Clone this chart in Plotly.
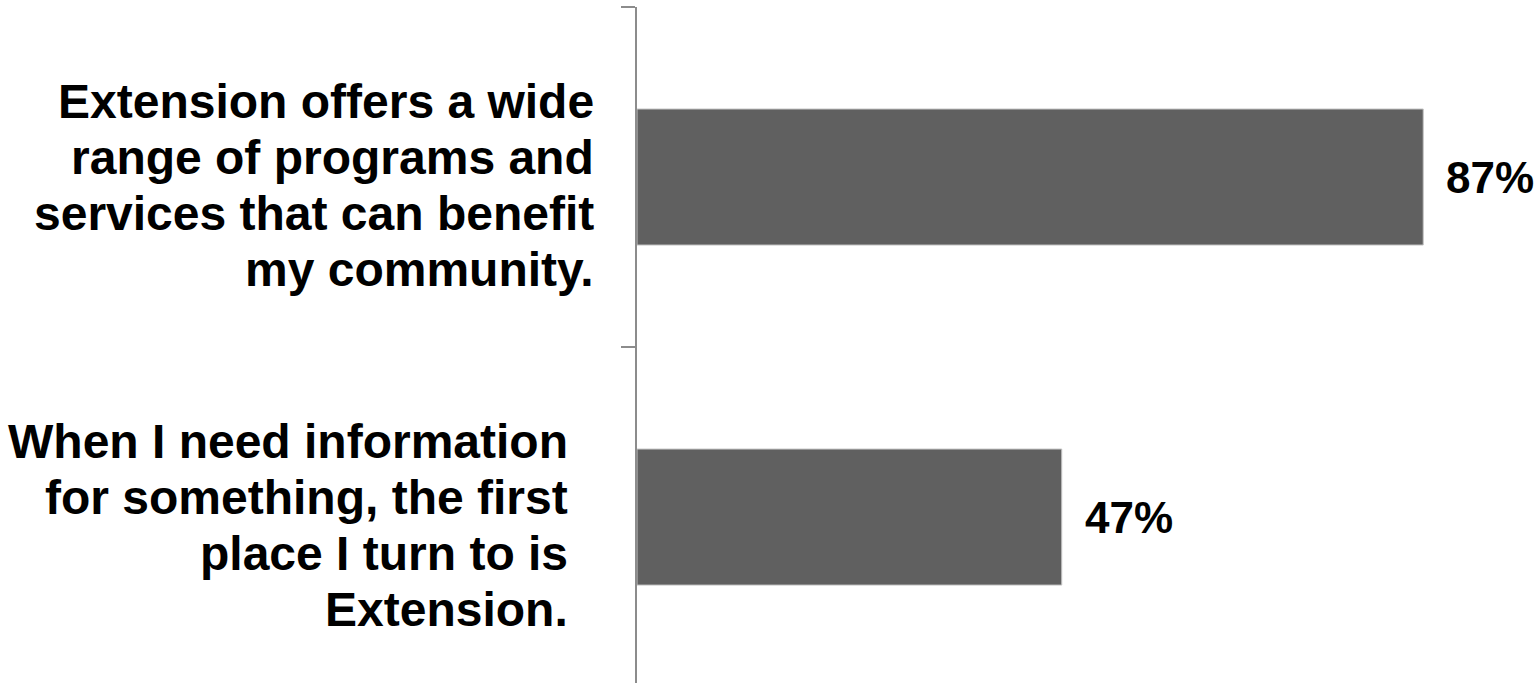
import plotly.graph_objects as go

# ---- data ----
categories = [
    "Extension offers a wide<br>range of programs and<br>services that can benefit<br>my community.",
    "When I need information<br>for something, the first<br>place I turn to is<br>Extension.",
]
values = [87, 47]
value_labels = ["87%", "47%"]

# ---- style ----
BAR_COLOR = "#606060"
AXIS_COLOR = "#8c8c8c"
FONT = "Liberation Sans"
label_right_gap = [41, 67]   # px gap between label block and axis
LINE_SPACING = 56
BLOCK_OFFSET = -8

fig = go.Figure()
fig.add_trace(go.Bar(
    x=values,
    y=categories,
    orientation="h",
    marker=dict(color=BAR_COLOR, line=dict(color="#c4c4c4", width=1)),
    hoverinfo="skip",
))

annotations = []
for i, (cat, val, vl) in enumerate(zip(categories, values, value_labels)):
    lines = cat.split("<br>")
    n = len(lines)
    for j, line in enumerate(lines):
        annotations.append(dict(
            xref="paper", x=0, yref="y", y=cat,
            xanchor="right", yanchor="middle",
            xshift=-label_right_gap[i],
            yshift=((n - 1) / 2 - j) * LINE_SPACING + BLOCK_OFFSET,
            text=line, showarrow=False, align="right",
            font=dict(family=FONT, size=48, color="#000000", weight="bold"),
        ))
    annotations.append(dict(
        xref="x", x=val, yref="y", y=cat,
        xanchor="left", yanchor="middle", xshift=21,
        text=vl, showarrow=False,
        font=dict(family=FONT, size=44, color="#000000", weight="bold"),
    ))

fig.update_layout(
    width=1538, height=683,
    margin=dict(l=637, r=0, t=7, b=0),
    paper_bgcolor="white", plot_bgcolor="rgba(0,0,0,0)",
    showlegend=False,
    bargap=0.6,
    annotations=annotations,
    xaxis=dict(range=[0, 99.7], visible=False, showgrid=False, zeroline=False),
    yaxis=dict(
        type="category",
        categoryorder="array", categoryarray=categories,
        range=[1.488, -0.5],
        tickson="boundaries", ticks="outside", ticklen=14, tickwidth=2,
        tickcolor=AXIS_COLOR, showline=True, linecolor=AXIS_COLOR, linewidth=2,
        showgrid=False, zeroline=False, showticklabels=False,
    ),
)

fig.write_html("out.html")
